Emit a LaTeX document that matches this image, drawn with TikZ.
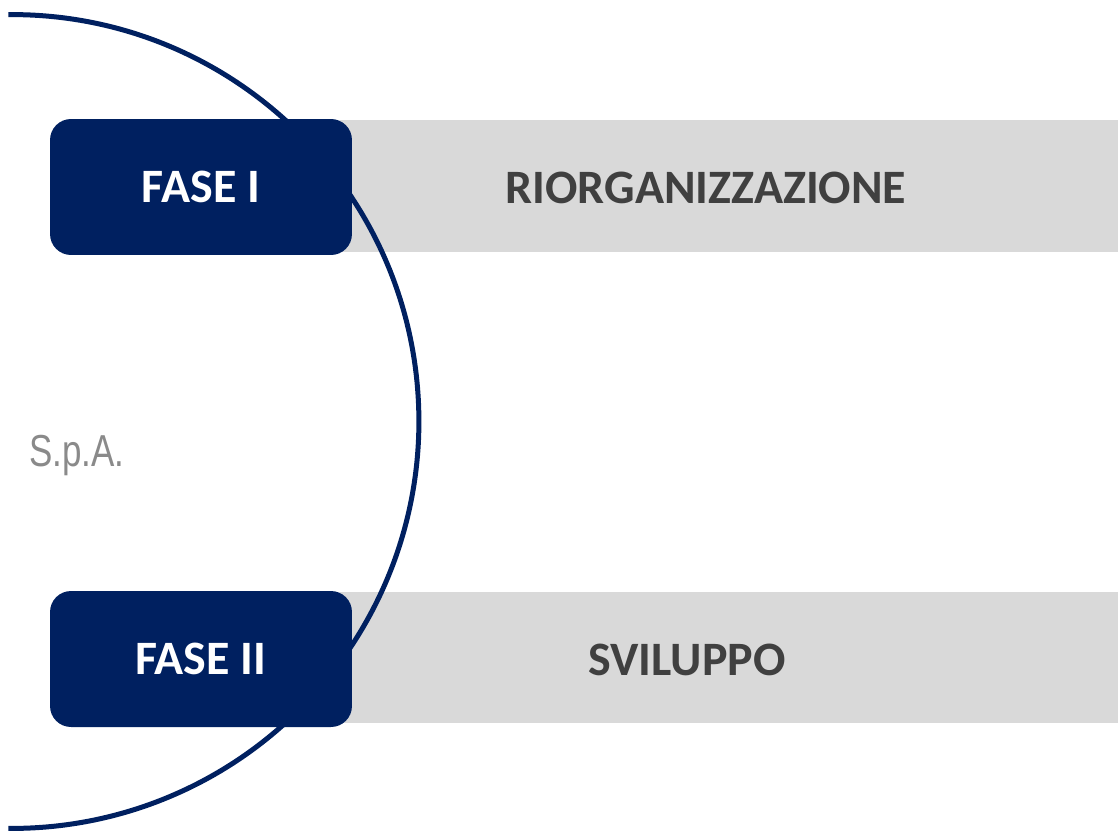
\documentclass[tikz,border=0pt]{standalone}
\usepackage{fontspec}
\setmainfont{Carlito}
\newfontfamily\spafont{Liberation Sans}
\usetikzlibrary{positioning}
\definecolor{faseblue}{HTML}{002060}
\definecolor{bandgrey}{HTML}{D9D9D9}
\definecolor{labelgrey}{HTML}{404040}
\definecolor{spagrey}{HTML}{8A8A8A}

\begin{document}
\begin{tikzpicture}[x=0.02cm,y=-0.02cm]
  \tikzstyle{every node}+=[inner sep=0pt]
  \tikzstyle{band}=[fill=bandgrey, anchor=north west, minimum width=15.56cm]
  \tikzstyle{fase}=[fill=faseblue, rounded corners=0.42cm, text=white,
    minimum width=6.04cm, minimum height=2.72cm,
    font=\bfseries\fontsize{27.3}{30}\selectfont]
  \tikzstyle{bandlabel}=[text=labelgrey, font=\bfseries\fontsize{27.3}{30}\selectfont]
  \useasboundingbox (0,0) rectangle (1118,832);
  % grey bands
  \node [band, minimum height=2.64cm] (band1) at (340,120) {};
  \node [band, minimum height=2.62cm] (band2) at (340,592) {};
  \node [bandlabel] (riorg) at (706,188) {RIORGANIZZAZIONE};
  \node [bandlabel] (svil) at (687,660) {SVILUPPO};
  % the big arc
  \coordinate (hub) at (12,421.5);
  \draw [faseblue, line width=0.1cm] (hub) ++(90.5:8.14cm)
    arc [start angle=90.5, end angle=-90.5, radius=8.14cm];
  % phase boxes
  \node [fase] (fase1) at (201,187) {FASE I};
  \node [fase] (fase2) at (201,659) {FASE II};
  \node [text=spagrey, anchor=base west, xscale=0.78,
    font=\spafont\fontsize{25.5}{28}\selectfont] (spa) at (29,466) {S.p.A.};
\end{tikzpicture}
\end{document}
